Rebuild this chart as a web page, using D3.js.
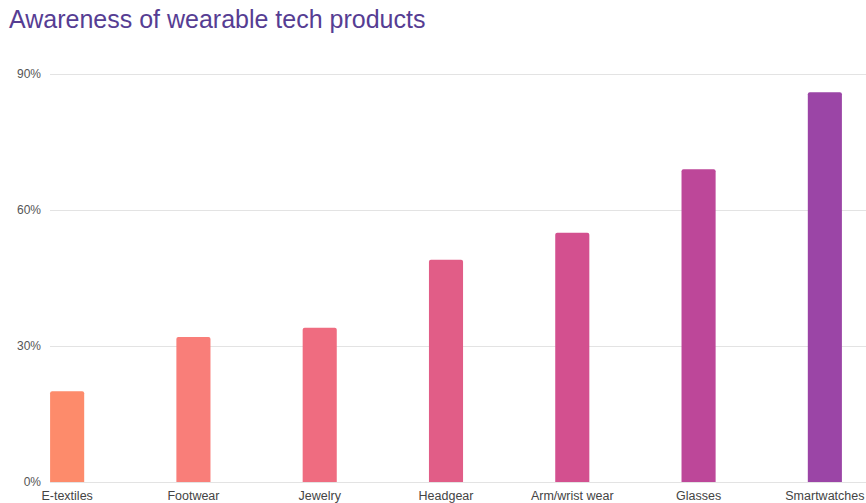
<!DOCTYPE html>
<html>
<head>
<meta charset="utf-8">
<script src="https://cdn.jsdelivr.net/npm/d3@7"></script>
<style>
  body { margin: 0; background: #fff; }
  text { font-family: "Liberation Sans", Arial, sans-serif; }
</style>
</head>
<body>
<svg id="chart" width="866" height="503"></svg>
<script>
const categories = ["E-textiles", "Footwear", "Jewelry", "Headgear", "Arm/wrist wear", "Glasses", "Smartwatches"];
const values = [20, 32, 34, 49, 55, 69, 86];
const colors = ["#fd8b6b", "#f97e79", "#ef6c80", "#e15d87", "#d3508f", "#bd4799", "#9b45a6"];
const yTicks = [0, 30, 60, 90];

const svg = d3.select("#chart");
const margin = { top: 74, right: 0, bottom: 21, left: 50 };
const width = +svg.attr("width") - margin.left - margin.right;
const height = +svg.attr("height") - margin.top - margin.bottom;
const g = svg.append("g").attr("transform", `translate(${margin.left},${margin.top})`);

// 제목
svg.append("text")
    .attr("x", 9)
    .attr("y", 28)
    .style("font-size", "25px")
    .attr("fill", "#563d93")
    .text("Awareness of wearable tech products");

const x = d3.scaleBand()
    .domain(categories)
    .range([-46, 838])
    .paddingInner(0.73)
    .paddingOuter(0.365);

const y = d3.scaleLinear()
    .domain([0, 90])
    .range([height, 0]);

// 그리드 + y축 레이블
const yAxis = g.append("g")
    .call(d3.axisLeft(y).tickValues(yTicks).tickSize(-width).tickFormat(d => d + "%"));
yAxis.select(".domain").remove();
yAxis.selectAll(".tick line").attr("stroke", "#e3e3e3");
yAxis.selectAll(".tick text")
    .attr("x", -9)
    .attr("fill", "#555")
    .style("font-size", "12px");

// 막대
const data = categories.map((c, i) => ({ cat: c, val: values[i], color: colors[i] }));
g.selectAll(".bar")
    .data(data)
    .enter()
    .append("path")
    .attr("class", "bar")
    .attr("fill", d => d.color)
    .attr("d", d => {
        const x0 = x(d.cat), w = x.bandwidth(), y0 = y(d.val), h = height - y0, r = 2;
        return `M${x0},${y0 + h}V${y0 + r}Q${x0},${y0} ${x0 + r},${y0}H${x0 + w - r}Q${x0 + w},${y0} ${x0 + w},${y0 + r}V${y0 + h}Z`;
    });

// x축 레이블
const xAxis = g.append("g")
    .attr("transform", `translate(0,${height})`)
    .call(d3.axisBottom(x).tickSize(0).tickPadding(9));
xAxis.select(".domain").remove();
xAxis.selectAll(".tick text")
    .attr("fill", "#444")
    .style("font-size", "12.5px");
</script>
</body>
</html>
